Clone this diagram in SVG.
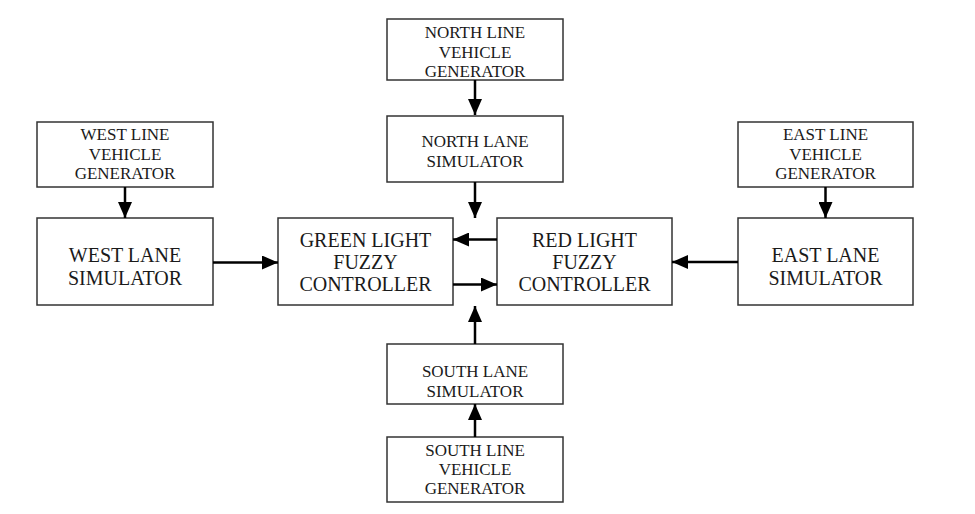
<svg xmlns="http://www.w3.org/2000/svg" width="975" height="514" viewBox="0 0 975 514">
<defs>
<marker id="ah" markerUnits="userSpaceOnUse" markerWidth="16" markerHeight="14" refX="16" refY="7" orient="auto">
<path d="M0,0 L16,7 L0,14 Z" fill="#000"/>
</marker>
<style>
rect{fill:#fff;stroke:#333;stroke-width:1.5}
text{font-family:"Liberation Serif","Times New Roman",serif;fill:#1a1a1a;text-anchor:middle}
.s{font-size:17px}
.b{font-size:20px}
.c line{stroke:#000;stroke-width:2.5;marker-end:url(#ah)}
</style>
</defs>
<rect x="0" y="0" width="975" height="514" style="stroke:none"/>
<g id="north-gen"><rect x="387" y="19" width="176" height="61"/>
<text class="s" x="475" y="38">NORTH LINE</text><text class="s" x="475" y="58">VEHICLE</text><text class="s" x="475" y="77">GENERATOR</text></g>
<g id="north-lane"><rect x="387" y="116" width="176" height="66"/>
<text class="s" x="475" y="147">NORTH LANE</text><text class="s" x="475" y="167">SIMULATOR</text></g>
<g id="west-gen"><rect x="37" y="122" width="176" height="65"/>
<text class="s" x="125" y="140">WEST LINE</text><text class="s" x="125" y="160">VEHICLE</text><text class="s" x="125" y="179">GENERATOR</text></g>
<g id="west-lane"><rect x="37" y="218" width="176" height="87"/>
<text class="b" x="125" y="262">WEST LANE</text><text class="b" x="125" y="285">SIMULATOR</text></g>
<g id="east-gen"><rect x="738" y="122" width="175" height="65"/>
<text class="s" x="825.5" y="140">EAST LINE</text><text class="s" x="825.5" y="160">VEHICLE</text><text class="s" x="825.5" y="179">GENERATOR</text></g>
<g id="east-lane"><rect x="738" y="218" width="175" height="87"/>
<text class="b" x="825.5" y="262">EAST LANE</text><text class="b" x="825.5" y="285">SIMULATOR</text></g>
<g id="green"><rect x="278" y="218" width="175" height="87"/>
<text class="b" x="365.5" y="247">GREEN LIGHT</text><text class="b" x="365.5" y="269">FUZZY</text><text class="b" x="365.5" y="291">CONTROLLER</text></g>
<g id="red"><rect x="497" y="218" width="175" height="87"/>
<text class="b" x="584.5" y="247">RED LIGHT</text><text class="b" x="584.5" y="269">FUZZY</text><text class="b" x="584.5" y="291">CONTROLLER</text></g>
<g id="south-lane"><rect x="387" y="344" width="176" height="60"/>
<text class="s" x="475" y="377">SOUTH LANE</text><text class="s" x="475" y="397">SIMULATOR</text></g>
<g id="south-gen"><rect x="387" y="437" width="176" height="65"/>
<text class="s" x="475" y="456">SOUTH LINE</text><text class="s" x="475" y="475">VEHICLE</text><text class="s" x="475" y="494">GENERATOR</text></g>
<g id="connectors" class="c">
<line x1="475" y1="80" x2="475" y2="115"/>
<line x1="475" y1="182" x2="475" y2="218"/>
<line x1="125" y1="187" x2="125" y2="218"/>
<line x1="825.5" y1="187" x2="825.5" y2="218"/>
<line x1="213" y1="262.5" x2="278" y2="262.5"/>
<line x1="738" y1="262" x2="672" y2="262"/>
<line x1="497" y1="239.5" x2="453" y2="239.5"/>
<line x1="453" y1="284.5" x2="497" y2="284.5"/>
<line x1="475" y1="344" x2="475" y2="306"/>
<line x1="475" y1="437" x2="475" y2="404"/>
</g>
</svg>
